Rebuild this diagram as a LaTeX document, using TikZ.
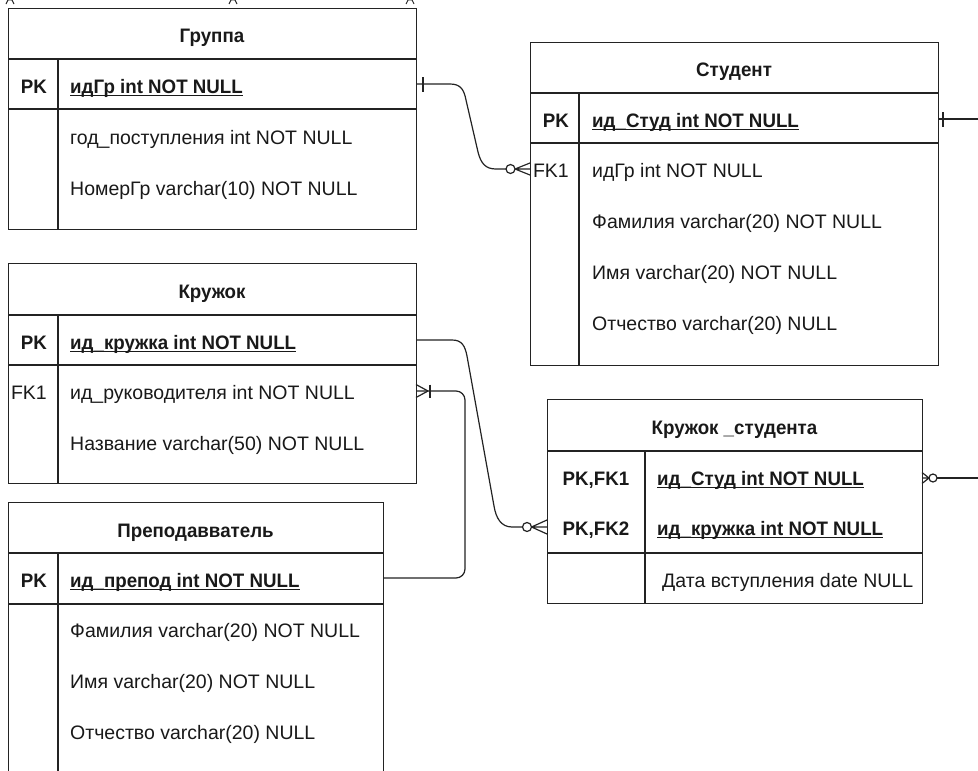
\documentclass[tikz,border=0pt]{standalone}
\usepackage{fontspec}
\setmainfont[BoldFeatures={FakeStretch=0.96}]{Liberation Sans}
\definecolor{linec}{RGB}{35,35,35}
\definecolor{txtc}{RGB}{25,25,25}
\newcommand\fsz{\fontsize{19.5}{23}\selectfont}
\tikzset{
  ent/.style={draw=linec, line width=1.3pt, rectangle, inner sep=0pt, anchor=north west},
  sepl/.style={draw=linec, line width=1.3pt},
  ttl/.style={font=\fsz\bfseries, text=txtc, inner sep=0pt, anchor=base},
  fld/.style={font=\fsz, text=txtc, inner sep=0pt, anchor=base west},
  pkfld/.style={font=\fsz\bfseries, text=txtc, inner sep=0pt, anchor=base west},
  keyb/.style={font=\fsz\bfseries, text=txtc, inner sep=0pt, anchor=base east},
  keyn/.style={font=\fsz, text=txtc, inner sep=0pt, anchor=base east},
  keyc/.style={font=\fsz\bfseries, text=txtc, inner sep=0pt, anchor=base},
  ulin/.style={draw=txtc, line width=1.1pt},
  conn/.style={draw=linec, line width=1.2pt},
}
\newcommand\ulnode[1]{\draw[ulin] ([yshift=-2.6pt]#1.base west) -- ([yshift=-2.6pt]#1.base east);}
\begin{document}
\begin{tikzpicture}[x=1pt,y=-1pt]
\useasboundingbox (0,0) rectangle (978,771);
\clip (0,0) rectangle (978,771);
\fill[white] (0,0) rectangle (978,771);

% top marks (cut-off shapes)
\draw[linec, line width=0.9pt] (6,4) -- (8,0) -- (12,0) -- (14,4);
\draw[linec, line width=0.9pt] (229,4) -- (231,0) -- (235,0) -- (237,4);
\draw[linec, line width=0.9pt] (406,4) -- (408,0) -- (412,0) -- (414,4);

% ---------- Группа ----------
\node[ent, minimum width=408pt, minimum height=221pt] (grp) at (8,8) {};
\draw[sepl] (8,59) -- (416,59) (8,109) -- (416,109) (58,59) -- (58,229);
\node[ttl] (grpT) at (212,42) {Группа};
\node[keyb] (grpK) at (47,93) {PK};
\node[pkfld] (grpF1) at (70,93) {идГр int NOT NULL}; \ulnode{grpF1}
\node[fld] (grpF2) at (70,144) {год\_поступления int NOT NULL};
\node[fld] (grpF3) at (70,195) {НомерГр varchar(10) NOT NULL};

% ---------- Студент ----------
\node[ent, minimum width=408pt, minimum height=323pt] (stu) at (530,42) {};
\draw[sepl] (530,93) -- (938,93) (530,143) -- (938,143) (579,93) -- (579,365);
\node[ttl] (stuT) at (734,76) {Студент};
\node[keyb] (stuK1) at (569,127) {PK};
\node[keyn] (stuK2) at (569,177) {FK1};
\node[pkfld] (stuF1) at (592,127) {ид\_Студ int NOT NULL}; \ulnode{stuF1}
\node[fld] (stuF2) at (592,177) {идГр int NOT NULL};
\node[fld] (stuF3) at (592,228) {Фамилия varchar(20) NOT NULL};
\node[fld] (stuF4) at (592,279) {Имя varchar(20) NOT NULL};
\node[fld] (stuF5) at (592,330) {Отчество varchar(20) NULL};

% ---------- Кружок ----------
\node[ent, minimum width=408pt, minimum height=220pt] (krg) at (8,263) {};
\draw[sepl] (8,315) -- (416,315) (8,365) -- (416,365) (58,315) -- (58,483);
\node[ttl] (krgT) at (212,298) {Кружок};
\node[keyb] (krgK1) at (47,349) {PK};
\node[keyn] (krgK2) at (47,399) {FK1};
\node[pkfld] (krgF1) at (70,349) {ид\_кружка int NOT NULL}; \ulnode{krgF1}
\node[fld] (krgF2) at (70,399) {ид\_руководителя int NOT NULL};
\node[fld] (krgF3) at (70,450) {Название varchar(50) NOT NULL};

% ---------- Преподаватель ----------
\node[ent, minimum width=375pt, minimum height=275pt] (prp) at (8,502) {};
\draw[sepl] (8,553) -- (383,553) (8,604) -- (383,604) (58,553) -- (58,777);
\node[ttl] (prpT) at (195.5,537) {Преподавватель};
\node[keyb] (prpK) at (47,587) {PK};
\node[pkfld] (prpF1) at (70,587) {ид\_препод int NOT NULL}; \ulnode{prpF1}
\node[fld] (prpF2) at (70,637) {Фамилия varchar(20) NOT NULL};
\node[fld] (prpF3) at (70,688) {Имя varchar(20) NOT NULL};
\node[fld] (prpF4) at (70,739) {Отчество varchar(20) NULL};

% ---------- Кружок_студента ----------
\node[ent, minimum width=375pt, minimum height=204pt] (ks) at (547,399) {};
\draw[sepl] (547,451) -- (922,451) (547,553) -- (922,553) (645,451) -- (645,603);
\node[ttl] (ksT) at (734.5,434) {Кружок \_студента};
\node[keyc] (ksK1) at (596,485) {PK,FK1};
\node[keyc] (ksK2) at (596,535) {PK,FK2};
\node[pkfld] (ksF1) at (657,485) {ид\_Студ int NOT NULL}; \ulnode{ksF1}
\node[pkfld] (ksF2) at (657,535) {ид\_кружка int NOT NULL}; \ulnode{ksF2}
\node[fld] (ksF3) at (662,587) {Дата вступления date NULL};

% ---------- connectors ----------
% Группа.PK -> Студент.FK1
\coordinate (g1) at (416,84);
\coordinate (s1) at (530,169);
\draw[conn] (g1) -- (450,84) .. controls (461,84) and (464,90) .. (466,100)
  -- (478,152) .. controls (481,164) and (486,169) .. (496,169) -- (506,169);
\draw[conn] (423,77) -- (423,92);
\draw[conn] (510.5,169) circle (4.5pt);
\draw[conn] (515,169) -- (s1) (515,169) -- (530,163) (515,169) -- (530,175);

% Кружок.PK -> Кружок_студента.FK2
\coordinate (k1) at (416,340);
\coordinate (ks2) at (547,527);
\draw[conn] (k1) -- (452,340) .. controls (462,340) and (465,346) .. (467,356)
  -- (494,506) .. controls (496,518) and (501,527) .. (512,527) -- (522,527);
\draw[conn] (527,527) circle (4.5pt);
\draw[conn] (531.5,527) -- (ks2) (531.5,527) -- (547,520) (531.5,527) -- (547,534);

% Преподаватель.PK -> Кружок.FK1
\coordinate (p1) at (383,578);
\coordinate (k2) at (416,391);
\draw[conn, rounded corners=9pt] (p1) -- (465,578) -- (465,391) -- (k2);
\draw[conn] (428,391) -- (416,384.5) (428,391) -- (416,397.5);
\draw[conn] (430,384.5) -- (430,397.5);

% Студент.PK -> (off picture)
\coordinate (s0) at (938,119);
\coordinate (e4) at (978,119);
\draw[conn] (s0) -- (e4);
\draw[conn] (943,112) -- (943,127);

% Кружок_студента.FK1 -> (off picture)
\coordinate (ks1) at (922,478);
\coordinate (e5) at (978,478);
\draw[conn] (937,478) -- (e5);
\draw[conn] (933,478) circle (4pt);
\draw[conn] (929,478) -- (ks1) (929,478) -- (922,472.5) (929,478) -- (922,483.5);
\end{tikzpicture}
\end{document}
